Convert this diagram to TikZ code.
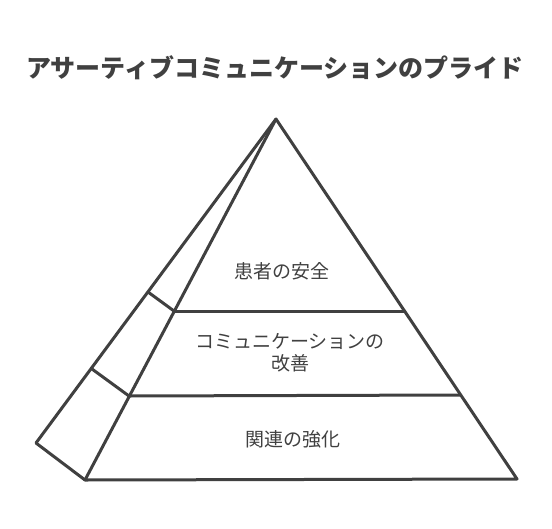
\documentclass[tikz,border=0pt]{standalone}
\usepackage{fontspec}
\setmainfont{Noto Sans CJK JP}
\usetikzlibrary{calc}
\definecolor{inkgray}{HTML}{404040}
\tikzset{
	edge/.style={line width=3pt, color=inkgray, line join=round, line cap=round},
	tier/.style={color=inkgray, font=\fontsize{19}{22}\selectfont, align=center},
	headline/.style={color=inkgray, font=\fontsize{25}{28}\selectfont\bfseries}
}

\begin{document}
\begin{tikzpicture}[x=1pt, y=-1pt]
		%%%%% START %%%%%
		\useasboundingbox (0, 0) rectangle (552, 528);
		
		\node[headline] (title) at (275, 68) {アサーティブコミュニケーションのプライド};
		
		% side face
		\draw[edge] (276, 119) -- (36, 443) -- (85, 480);
		\draw[edge] (148, 292) -- (174, 311);
		\draw[edge] (92, 369) -- (129, 396);
		
		% front face
		\draw[edge] (276, 119) -- (517, 479) -- (85, 480) -- cycle;
		\draw[edge] (174, 311) -- (404, 311);
		\draw[edge] (129, 396) -- (460, 395);
		
		\node[tier] (safety) at (282, 271) {患者の安全};
		\node[tier] (comm) at (290, 353) {コミュニケーションの\\改善};
		\node[tier] (bond) at (293, 439) {関連の強化};
		
		%%%%% END %%%%%
	\end{tikzpicture}
\end{document}
